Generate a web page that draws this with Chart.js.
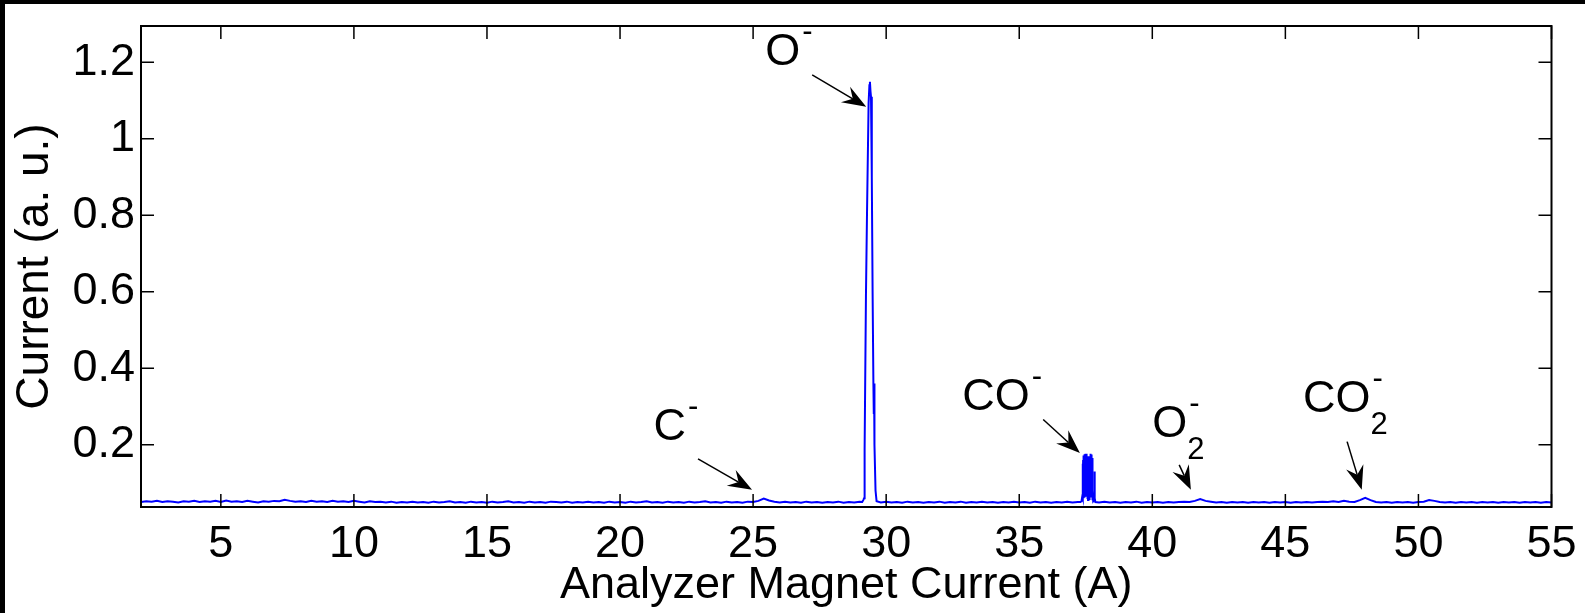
<!DOCTYPE html>
<html>
<head>
<meta charset="utf-8">
<script src="https://cdn.jsdelivr.net/npm/chart.js@4.4.1/dist/chart.umd.min.js"></script>
<style>
  html, body { margin: 0; padding: 0; background: #ffffff; overflow: hidden; }
  #wrap { position: relative; width: 1585px; height: 613px; }
  #c { position: absolute; left: 0; top: 0; }
  .edge { position: absolute; background: #000; }
</style>
</head>
<body>
<div id="wrap">
  <canvas id="c" width="1585" height="613" style="width:1585px;height:613px"></canvas>
  <div class="edge" style="left:0;top:0;width:1585px;height:4px"></div>
  <div class="edge" style="left:0;top:0;width:5px;height:613px"></div>
</div>
<script>
// ---- data ----
const magnetCurrent = [
  2.0,2.2,2.4,2.6,2.8,3.0,3.2,3.4,3.6,3.8,4.0,4.2,4.4,4.6,4.8,5.0,5.2,5.4,5.6,5.8,
  6.0,6.2,6.4,6.6,6.8,7.0,7.2,7.4,7.6,7.8,8.0,8.2,8.4,8.6,8.8,9.0,9.2,9.4,9.6,9.8,
  10.0,10.2,10.4,10.6,10.8,11.0,11.2,11.4,11.6,11.8,12.0,12.2,12.4,12.6,12.8,13.0,13.2,13.4,13.6,13.8,
  14.0,14.2,14.4,14.6,14.8,15.0,15.2,15.4,15.6,15.8,16.0,16.2,16.4,16.6,16.8,17.0,17.2,17.4,17.6,17.8,
  18.0,18.2,18.4,18.6,18.8,19.0,19.2,19.4,19.6,19.8,20.0,20.2,20.4,20.6,20.8,21.0,21.2,21.4,21.6,21.8,
  22.0,22.2,22.4,22.6,22.8,23.0,23.2,23.4,23.6,23.8,24.0,24.2,24.4,24.6,24.8,25.0,25.2,25.4,25.6,25.8,
  26.0,26.2,26.4,26.6,26.8,27.0,27.2,27.4,27.6,27.8,28.0,28.2,28.4,28.6,28.8,29.0,
  29.10,29.14,29.17,29.19,29.24,29.28,29.34,29.37,29.39,29.41,29.43,29.46,29.49,29.52,29.535,29.545,29.56,29.60,29.64,
  29.8,30.0,30.2,30.4,30.6,30.8,31.0,31.2,31.4,31.6,31.8,32.0,32.2,32.4,32.6,32.8,33.0,33.2,33.4,33.6,
  33.8,34.0,34.2,34.4,34.6,34.8,35.0,35.2,35.4,35.6,35.8,36.0,36.2,36.4,36.6,36.8,37.0,37.2,
  37.300,37.340,37.370,37.380,37.385,37.390,37.395,37.400,37.405,37.410,37.415,37.420,37.425,37.430,
  37.435,37.440,37.445,37.450,37.455,37.460,37.465,37.470,37.475,37.480,37.485,37.490,37.495,37.500,
  37.505,37.510,37.515,37.520,37.525,37.530,37.535,37.540,37.545,37.550,37.555,37.560,37.565,37.570,
  37.575,37.580,37.585,37.590,37.600,37.615,37.625,37.630,37.635,37.640,37.645,37.650,37.655,37.660,
  37.665,37.670,37.675,37.680,37.685,37.690,37.695,37.700,37.705,37.710,37.715,37.720,37.725,37.730,
  37.735,37.740,37.745,37.750,37.755,37.760,37.770,37.780,37.820,37.830,37.840,37.860,
  38.0,38.2,38.4,38.6,38.8,39.0,39.2,39.4,39.6,39.8,40.0,40.2,40.4,40.6,40.8,41.0,41.2,41.4,41.6,41.8,
  42.0,42.2,42.4,42.6,42.8,43.0,43.2,43.4,43.6,43.8,44.0,44.2,44.4,44.6,44.8,45.0,45.2,45.4,45.6,45.8,
  46.0,46.2,46.4,46.6,46.8,47.0,47.2,47.4,47.6,47.8,48.0,48.2,48.4,48.6,48.8,49.0,49.2,49.4,49.6,49.8,
  50.0,50.2,50.4,50.6,50.8,51.0,51.2,51.4,51.6,51.8,52.0,52.2,52.4,52.6,52.8,53.0,53.2,53.4,53.6,53.8,
  54.0,54.2,54.4,54.6,54.8,55.0
];
const ionCurrent = [
  .050,.052,.051,.053,.050,.052,.051,.049,.052,.051,.053,.050,.052,.051,.053,.050,.054,.051,.052,.050,
  .053,.051,.049,.052,.051,.053,.052,.056,.053,.051,.052,.050,.053,.051,.052,.050,.053,.051,.052,.050,
  .053,.051,.049,.052,.050,.051,.049,.051,.048,.050,.049,.051,.049,.050,.048,.051,.049,.050,.052,.049,
  .050,.048,.051,.049,.050,.048,.051,.049,.050,.052,.049,.050,.048,.051,.049,.050,.048,.051,.050,.049,
  .051,.048,.050,.049,.051,.049,.050,.048,.051,.049,.050,.048,.051,.049,.050,.052,.049,.050,.048,.051,
  .049,.050,.048,.051,.049,.050,.052,.049,.050,.048,.051,.049,.050,.048,.051,.050,.053,.059,.054,.051,
  .049,.051,.049,.050,.048,.051,.049,.050,.048,.050,.049,.051,.048,.050,.049,.051,
  .050,.055,.060,.186,.587,.806,1.094,1.140,1.149,1.125,1.110,.900,.600,.360,.280,.360,.200,.080,.052,
  .049,.051,.049,.050,.048,.051,.049,.050,.048,.050,.049,.051,.048,.050,.049,.051,.048,.050,.049,.051,
  .049,.050,.048,.050,.049,.051,.049,.050,.048,.051,.049,.050,.048,.050,.049,.051,.049,.050,
  .050,.052,.065,.120,.060,.150,.065,.160,.060,.168,.070,.172,.062,.170,
  .075,.174,.065,.172,.070,.175,.062,.170,.080,.174,.066,.176,.070,.172,
  .064,.175,.075,.170,.068,.176,.072,.172,.065,.170,.070,.165,.062,.150,
  .058,.120,.055,.090,.056,.060,.095,.055,.130,.060,.160,.065,.170,.070,
  .174,.062,.176,.075,.172,.066,.175,.070,.172,.064,.174,.072,.170,.066,
  .165,.060,.150,.058,.120,.055,.080,.052,.055,.130,.060,.050,
  .049,.051,.049,.050,.048,.050,.049,.051,.048,.050,.049,.050,.048,.050,.049,.050,.051,.050,.053,.058,
  .053,.051,.049,.050,.048,.050,.049,.050,.048,.050,.049,.050,.048,.050,.049,.050,.048,.050,.049,.050,
  .049,.050,.051,.050,.052,.050,.053,.051,.050,.055,.061,.055,.050,.049,.050,.048,.050,.049,.050,.048,
  .050,.051,.055,.053,.050,.049,.050,.048,.050,.049,.050,.048,.050,.049,.050,.048,.050,.049,.050,.048,
  .050,.049,.050,.048,.050,.049
];
const xTickValues = [5, 10, 15, 20, 25, 30, 35, 40, 45, 50, 55];
const yTickValues = [0.2, 0.4, 0.6, 0.8, 1, 1.2];
const xRange = [2, 55];
const yRange = [0.037, 1.295];
const xTitle = 'Analyzer Magnet Current (A)';
const yTitle = 'Current (a. u.)';
// ion labels: main text, subscript, superscript, label anchor (x, y), arrow tail, arrow tip (data units)
const ionLabels = [
  { main: 'C',  sub: '',  sup: '-', at: [21.33, 0.212], tail: [22.93, 0.163], tip: [24.96, 0.082] },
  { main: 'O',  sub: '',  sup: '-', at: [25.53, 1.193], tail: [27.22, 1.167], tip: [29.25, 1.084] },
  { main: 'CO', sub: '',  sup: '-', at: [32.93, 0.291], tail: [35.90, 0.266], tip: [37.28, 0.178] },
  { main: 'O',  sub: '2', sup: '-', at: [40.07, 0.221], tail: [41.01, 0.147], tip: [41.45, 0.082] },
  { main: 'CO', sub: '2', sup: '-', at: [45.74, 0.286], tail: [47.32, 0.208], tip: [47.87, 0.082] }
];

// ---- style ----
const FONT = '"Liberation Sans", Arial, sans-serif';
const TICK_LEN = 13;

const framePlugin = {
  id: 'framePlugin',
  afterDatasetsDraw(chart) {
    const { ctx, chartArea: a, scales } = chart;
    const xs = scales.x, ys = scales.y;
    ctx.save();
    // inside tick marks on all four sides
    ctx.strokeStyle = '#000';
    ctx.lineWidth = 1.5;
    ctx.beginPath();
    xs.ticks.forEach(t => {
      const px = xs.getPixelForValue(t.value);
      ctx.moveTo(px, a.bottom); ctx.lineTo(px, a.bottom - TICK_LEN);
      ctx.moveTo(px, a.top); ctx.lineTo(px, a.top + TICK_LEN);
    });
    ys.ticks.forEach(t => {
      const py = ys.getPixelForValue(t.value);
      ctx.moveTo(a.left, py); ctx.lineTo(a.left + TICK_LEN, py);
      ctx.moveTo(a.right, py); ctx.lineTo(a.right - TICK_LEN, py);
    });
    ctx.stroke();
    // box
    ctx.lineWidth = 2;
    ctx.strokeRect(a.left, a.top, a.right - a.left, a.bottom - a.top);

    // ion labels with arrows
    ionLabels.forEach(l => {
      const tx = xs.getPixelForValue(l.tail[0]), ty = ys.getPixelForValue(l.tail[1]);
      const hx = xs.getPixelForValue(l.tip[0]), hy = ys.getPixelForValue(l.tip[1]);
      const ang = Math.atan2(hy - ty, hx - tx);
      const L = 24, W = 9, N = 0.65 * L;
      const ca = Math.cos(ang), sa = Math.sin(ang);
      ctx.lineWidth = 1.5;
      ctx.beginPath();
      ctx.moveTo(tx, ty);
      ctx.lineTo(hx - ca * N, hy - sa * N);
      ctx.stroke();
      ctx.fillStyle = '#000';
      ctx.beginPath();
      ctx.moveTo(hx, hy);
      ctx.lineTo(hx - ca * L - sa * W, hy - sa * L + ca * W);
      ctx.lineTo(hx - ca * N, hy - sa * N);
      ctx.lineTo(hx - ca * L + sa * W, hy - sa * L - ca * W);
      ctx.closePath();
      ctx.fill();

      const bx = xs.getPixelForValue(l.at[0]) - 2, by = ys.getPixelForValue(l.at[1]);
      ctx.textAlign = 'left';
      ctx.textBaseline = 'alphabetic';
      ctx.font = '45px ' + FONT;
      ctx.fillText(l.main, bx, by);
      const w = ctx.measureText(l.main).width;
      ctx.font = '31px ' + FONT;
      if (l.sup) ctx.fillText(l.sup, bx + w + 2, by - 24);
      if (l.sub) ctx.fillText(l.sub, bx + w, by + 22);
    });
    ctx.restore();
  }
};

const points = magnetCurrent.map((x, i) => ({ x: x, y: ionCurrent[i] }));

new Chart(document.getElementById('c'), {
  type: 'line',
  data: {
    datasets: [{
      data: points,
      borderColor: '#0000ff',
      borderWidth: 2,
      pointRadius: 0,
      tension: 0,
      fill: false
    }]
  },
  options: {
    responsive: false,
    animation: false,
    devicePixelRatio: 1,
    parsing: false,
    layout: { padding: { top: 26, right: 33.5, left: 0, bottom: 0 } },
    plugins: { legend: { display: false }, tooltip: { enabled: false } },
    scales: {
      x: {
        type: 'linear',
        min: xRange[0], max: xRange[1],
        afterBuildTicks: s => { s.ticks = xTickValues.map(v => ({ value: v })); },
        afterFit: s => { s.height = 106; s.paddingLeft = 0; s.paddingRight = 0; },
        grid: { display: false, drawTicks: false },
        border: { display: false },
        ticks: { color: '#000', padding: 11, maxRotation: 0, autoSkip: false,
                 font: { family: FONT, size: 45 }, callback: v => String(v) },
        title: { display: true, text: xTitle, color: '#000',
                 font: { family: FONT, size: 45 }, padding: { top: 0, bottom: 0 } }
      },
      y: {
        type: 'linear',
        min: yRange[0], max: yRange[1],
        afterBuildTicks: s => { s.ticks = yTickValues.map(v => ({ value: v })); },
        afterFit: s => { s.width = 141; s.paddingTop = 0; s.paddingBottom = 0; },
        grid: { display: false, drawTicks: false },
        border: { display: false },
        ticks: { color: '#000', padding: 6, autoSkip: false,
                 font: { family: FONT, size: 45 }, callback: v => String(v) },
        title: { display: true, text: yTitle, color: '#000',
                 font: { family: FONT, size: 46 }, padding: { top: 8, bottom: 0 } }
      }
    }
  },
  plugins: [framePlugin]
});
</script>
</body>
</html>
